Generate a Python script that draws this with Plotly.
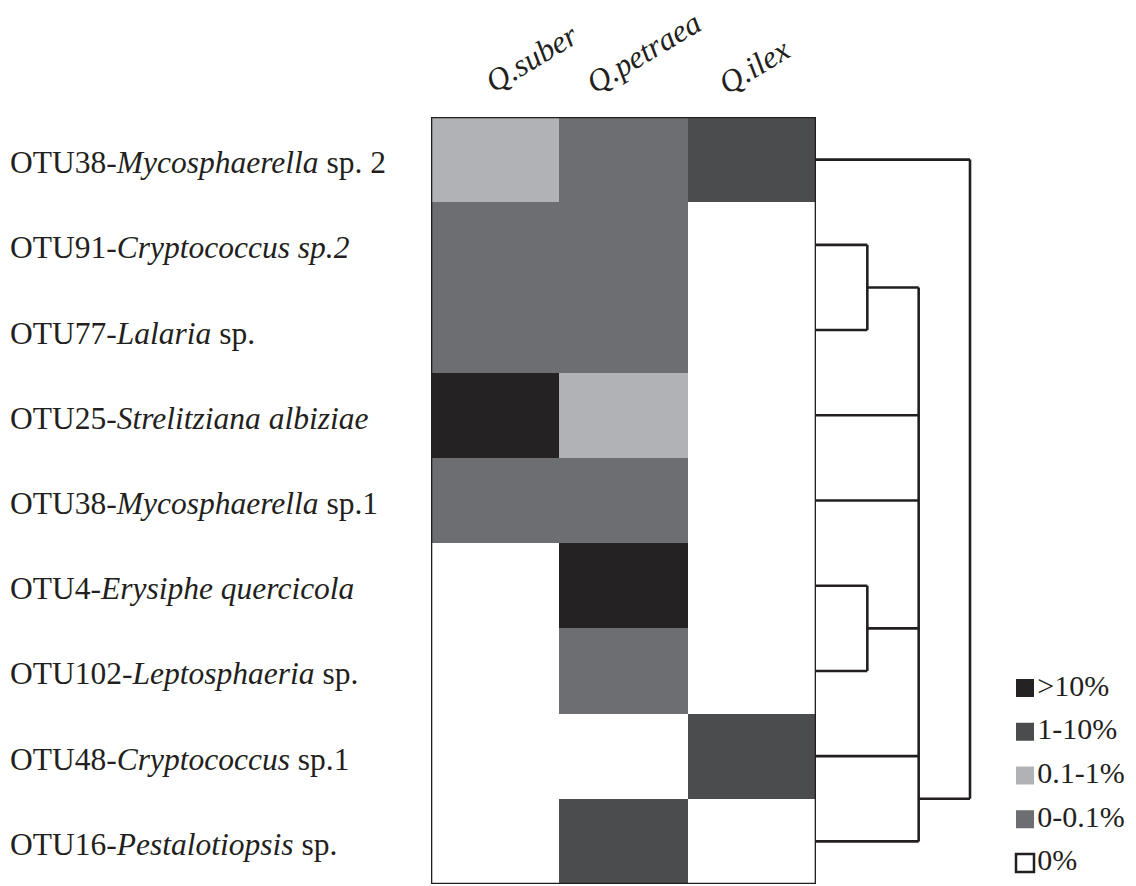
import plotly.graph_objects as go

W, H = 1136, 886

# Host oak species (columns) and fungal OTUs (rows, top to bottom)
hosts = ["Q.suber", "Q.petraea", "Q.ilex"]
otu_ids = ["OTU38", "OTU91", "OTU77", "OTU25", "OTU38", "OTU4", "OTU102", "OTU48", "OTU16"]
taxa = ["Mycosphaerella", "Cryptococcus sp.2", "Lalaria", "Strelitziana albiziae",
        "Mycosphaerella", "Erysiphe quercicola", "Leptosphaeria", "Cryptococcus",
        "Pestalotiopsis"]
taxa_suffix = [" sp. 2", "", " sp.", "", " sp.1", "", " sp.", " sp.1", " sp."]

# Relative abundance class of each OTU on each host
abundance_classes = [">10%", "1-10%", "0.1-1%", "0-0.1%", "0%"]
q_suber = ["0.1-1%", "0-0.1%", "0-0.1%", ">10%", "0-0.1%", "0%", "0%", "0%", "0%"]
q_petraea = ["0-0.1%", "0-0.1%", "0-0.1%", "0.1-1%", "0-0.1%", ">10%", "0-0.1%", "0%", "1-10%"]
q_ilex = ["1-10%", "0%", "0%", "0%", "0%", "0%", "0%", "1-10%", "0%"]

class_colors = {">10%": "#242223", "1-10%": "#4b4c4e", "0.1-1%": "#b1b2b5",
                "0-0.1%": "#6d6e71", "0%": "#ffffff"}

# Clustering of the OTUs: (node name, members, merge height, attachment row)
merges = [
    ("A", [1, 2], 1.0, None),
    ("B", [5, 6], 1.0, None),
    ("C", ["A", 3, 4, "B", 7, 8], 2.0, 7.5),
    ("root", [0, "C"], 3.0, None),
]

INK = "#231f20"
SERIF = "Liberation Serif"

def px_x(p):
    return p / W

def px_y(p):
    return 1 - p / H

# class -> ordinal code for the heatmap
order = ["0%", "0-0.1%", "0.1-1%", "1-10%", ">10%"]
code = {c: i for i, c in enumerate(order)}
z = [[code[a], code[b], code[c]] for a, b, c in zip(q_suber, q_petraea, q_ilex)]
n = len(order)
colorscale = []
for i, c in enumerate(order):
    colorscale.append([i / n, class_colors[c]])
    colorscale.append([(i + 1) / n, class_colors[c]])

fig = go.Figure()
fig.add_trace(go.Heatmap(
    z=z, x=list(range(len(hosts))), y=list(range(len(otu_ids))),
    zmin=-0.5, zmax=n - 0.5, colorscale=colorscale, showscale=False,
    xgap=0, ygap=0, hoverinfo="skip",
))

# Dendrogram segments
pos = {i: float(i) for i in range(len(otu_ids))}
height = {i: 0.0 for i in range(len(otu_ids))}
dx, dy = [], []
for name, members, h, anchor in merges:
    ys = [pos[m] for m in members]
    for m in members:
        dx.extend([height[m], h, None])
        dy.extend([pos[m], pos[m], None])
    dx.extend([h, h, None])
    dy.extend([min(ys), max(ys), None])
    pos[name] = anchor if anchor is not None else (min(ys) + max(ys)) / 2
    height[name] = h

fig.add_trace(go.Scatter(
    x=dx, y=dy, xaxis="x2", yaxis="y", mode="lines",
    line=dict(color=INK, width=2.6), hoverinfo="skip", showlegend=False,
))

# Legend of abundance classes
leg_idx = list(range(len(abundance_classes)))
fig.add_trace(go.Scatter(
    x=[0] * len(abundance_classes), y=leg_idx, xaxis="x3", yaxis="y3",
    mode="markers+text", text=abundance_classes, textposition="middle right",
    textfont=dict(family=SERIF, size=30, color=INK),
    marker=dict(symbol="square", size=18,
                color=[class_colors[c] for c in abundance_classes],
                line=dict(color=INK, width=[0, 0, 0, 0, 2.5])),
    hoverinfo="skip", showlegend=False, cliponaxis=False,
))

hm_left, hm_right, hm_top, hm_bot = 431, 816, 117, 884
fig.update_layout(
    width=W, height=H, autosize=False, margin=dict(l=0, r=0, t=0, b=0, pad=0),
    paper_bgcolor="white", plot_bgcolor="rgba(0,0,0,0)", showlegend=False,
    xaxis=dict(domain=[px_x(hm_left), px_x(hm_right)], range=[-0.5, 2.5],
               showticklabels=False, ticks="", showgrid=False, zeroline=False,
               showline=False, anchor="y"),
    yaxis=dict(domain=[px_y(hm_bot), px_y(hm_top)], range=[8.5, -0.5],
               showticklabels=False, ticks="", showgrid=False, zeroline=False,
               showline=False),
    xaxis2=dict(domain=[px_x(hm_right), px_x(990)],
                range=[0, 3 * (990 - hm_right) / (970 - hm_right)],
                anchor="y", showticklabels=False, ticks="", showgrid=False,
                zeroline=False, showline=False),
    xaxis3=dict(domain=[px_x(1000), 1], range=[-25, 111], anchor="y3",
                visible=False),
    yaxis3=dict(domain=[0, px_y(666)], range=[4.526, -0.503], anchor="x3",
                visible=False),
)

# Heatmap frame
fig.add_shape(type="rect", xref="x", yref="y", x0=-0.5, x1=2.5, y0=-0.5, y1=8.5,
              line=dict(color=INK, width=2.6))

# Slanted host names above the columns
header_shift = [36, 20, 2]
header_y = [58, 52, 66]
for j, (name, sx, hy) in enumerate(zip(hosts, header_shift, header_y)):
    fig.add_annotation(
        xref="x", yref="paper", x=j, y=px_y(hy), xshift=sx,
        xanchor="center", yanchor="middle", textangle=-31,
        text=f"<i>{name}</i>", showarrow=False,
        font=dict(family=SERIF, size=31.5, color=INK),
    )

# Row labels, left aligned
for i, (oid, tx, sfx) in enumerate(zip(otu_ids, taxa, taxa_suffix)):
    fig.add_annotation(
        xref="paper", yref="y", x=px_x(8), y=i, xanchor="left", yanchor="middle",
        yshift=-3, text=f"{oid}-<i>{tx}</i>{sfx}", showarrow=False,
        font=dict(family=SERIF, size=31.5, color=INK),
    )

fig.write_html("out.html", config={"responsive": False})
